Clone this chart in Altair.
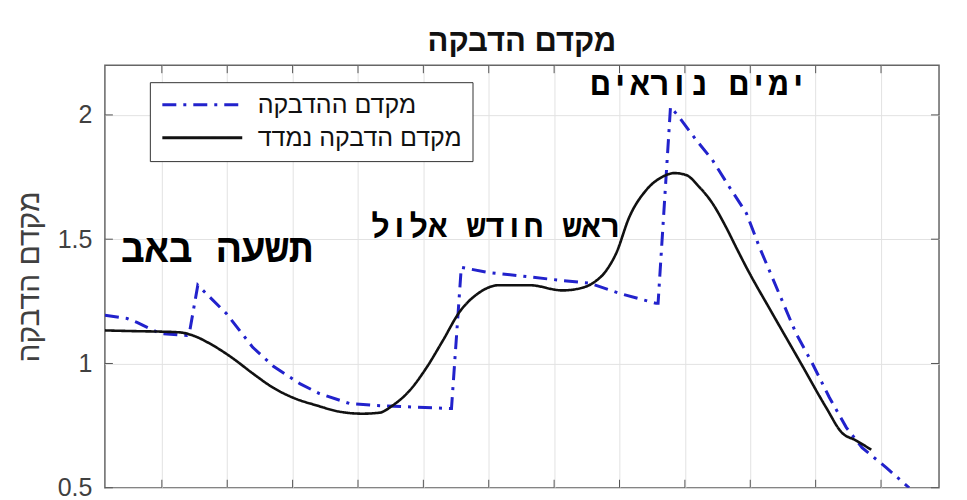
import altair as alt
import pandas as pd

series_names = ["מקדם ההדבקה", "מקדם הדבקה נמדד"]
series_colors = ["#2222cc", "#111111"]

# model (blue dash-dot)
model_x = [-0.87, -0.53, -0.38, -0.03, 0.38, 0.42, 0.55, 0.99, 1.39, 1.70, 2.11, 2.41, 2.87,
           3.28, 4.40, 4.43, 4.58, 4.97, 6.08, 6.54, 7.00, 7.56, 7.59, 7.78, 7.91, 8.17,
           8.42, 8.68, 8.94, 9.14, 9.44, 9.70, 9.95, 10.21, 10.47, 10.71, 11.08, 11.43]
model_y = [1.194, 1.181, 1.165, 1.121, 1.113, 1.121, 1.315, 1.200, 1.065, 0.990, 0.919, 0.879, 0.839,
           0.831, 0.819, 0.819, 1.387, 1.367, 1.335, 1.323, 1.282, 1.242, 1.242, 2.032, 1.992, 1.900,
           1.819, 1.710, 1.605, 1.468, 1.282, 1.121, 1.000, 0.863, 0.742, 0.661, 0.581, 0.500]

# measured (black solid)
measured_x = [-0.87, -0.40, 0.0, 0.28, 0.47, 0.78, 1.09, 1.39, 1.70, 2.00, 2.37, 2.72, 3.07, 3.33,
              3.53, 3.79, 4.05, 4.30, 4.55, 4.86, 5.16, 5.62, 6.13, 6.39, 6.59, 6.80, 6.95,
              7.15, 7.41, 7.65, 7.84, 8.02, 8.22, 8.42, 8.63, 8.79, 8.94, 9.34, 9.75, 10.16,
              10.40, 10.62, 10.85]
measured_y = [1.133, 1.130, 1.128, 1.125, 1.113, 1.073, 1.020, 0.960, 0.903, 0.863, 0.831, 0.806, 0.798, 0.802,
              0.831, 0.891, 0.984, 1.093, 1.206, 1.286, 1.315, 1.315, 1.294, 1.302, 1.323, 1.375, 1.444,
              1.589, 1.698, 1.750, 1.766, 1.758, 1.710, 1.645, 1.548, 1.464, 1.387, 1.200, 1.012, 0.823,
              0.722, 0.690, 0.653]

x_ticks = list(range(12))
y_ticks = [0.5, 1, 1.5, 2]

annot_text = ["ימים נוראים", "ראש חודש אלול", "תשעה באב"]
annot_x = [8.22, 5.10, 0.84]
annot_y = [2.121, 1.550, 1.456]
annot_size = [33, 32, 40]

title_text = "מקדם הדבקה"
y_title = "מקדם הדבקה"

rows = []
for i, (x, y) in enumerate(zip(model_x, model_y)):
    rows.append({"x": x, "y": y, "series": series_names[0], "i": i})
for i, (x, y) in enumerate(zip(measured_x, measured_y)):
    rows.append({"x": x, "y": y, "series": series_names[1], "i": i})
df = pd.DataFrame(rows)
model_df = df[df.series == series_names[0]]
meas_df = df[df.series == series_names[1]]

xscale = alt.Scale(domain=[-0.871, 11.887], nice=False, zero=False)
yscale = alt.Scale(domain=[0.5, 2.2], nice=False, zero=False)

xenc = alt.X("x:Q", scale=xscale,
             axis=alt.Axis(values=x_ticks, labels=False, ticks=False, domain=False, grid=True,
                           gridColor="#e2e2e2", gridWidth=1, title=None))
yenc = alt.Y("y:Q", scale=yscale,
             axis=alt.Axis(values=y_ticks, format="~g", ticks=False, tickSize=0, domain=False, grid=True,
                           gridColor="#e2e2e2", gridWidth=1, labelFontSize=25, labelColor="#404040",
                           labelFont="Liberation Sans", labelPadding=13, title=y_title,
                           titleFontSize=30, titleFontWeight="normal", titleColor="#404040",
                           titleFont="Liberation Sans", titleX=-75, titleY=211.5, titleAngle=270,
                           titleAlign="center", titleBaseline="middle"))
cenc = alt.Color("series:N", scale=alt.Scale(domain=series_names, range=series_colors),
                 legend=alt.Legend(title=None))
denc = alt.StrokeDash("series:N", scale=alt.Scale(domain=series_names, range=[[14, 7, 3, 7], [1, 0]]),
                      legend=alt.Legend(title=None))

model_line = alt.Chart(model_df).mark_line(clip=True, strokeWidth=3).encode(
    x=xenc, y=yenc, color=cenc, strokeDash=denc, order="i:Q")
meas_line = alt.Chart(meas_df).mark_line(clip=True, strokeWidth=2.6, interpolate="monotone").encode(
    x=xenc, y=yenc, color=cenc, strokeDash=denc, order="i:Q")

tx = pd.DataFrame({"x": x_ticks})
ty = pd.DataFrame({"y": y_ticks})
tick_col = "#555555"
top_ticks = alt.Chart(tx).mark_rule(color=tick_col, strokeWidth=1).encode(x="x:Q", y=alt.value(0), y2=alt.value(8))
bot_ticks = alt.Chart(tx).mark_rule(color=tick_col, strokeWidth=1).encode(x="x:Q", y=alt.value(423), y2=alt.value(415))
left_ticks = alt.Chart(ty).mark_rule(color=tick_col, strokeWidth=1).encode(y="y:Q", x=alt.value(0), x2=alt.value(8))
right_ticks = alt.Chart(ty).mark_rule(color=tick_col, strokeWidth=1).encode(y="y:Q", x=alt.value(835), x2=alt.value(827))

adf = pd.DataFrame({"t": annot_text, "x": annot_x, "y": annot_y, "s": annot_size})
annots = alt.Chart(adf).mark_text(font="Liberation Mono", fontWeight="bold", color="#000000",
                                  align="center", baseline="middle").encode(
    x="x:Q", y="y:Q", text="t:N", size=alt.Size("s:Q", scale=None, legend=None))

chart = alt.layer(model_line, meas_line, top_ticks, bot_ticks, left_ticks, right_ticks, annots).properties(
    width=835, height=423,
    autosize=alt.AutoSizeParams(type="none"),
    padding={"left": 97, "top": 57, "right": 20, "bottom": 20},
    title=alt.TitleParams(title_text, fontSize=31, fontWeight="bold", font="Liberation Sans",
                          anchor="middle", offset=7, color="#111111"),
).configure_view(stroke="#666666", strokeWidth=1.5).configure_legend(
    orient="none", legendX=45, legendY=17, fillColor="white", strokeColor="#333333",
    padding=10, labelFontSize=25, labelFont="Liberation Sans", labelColor="#111111", labelLimit=400,
    symbolType="M-7,0H1", symbolSize=400, symbolStrokeWidth=3, symbolOffset=60, rowPadding=7,
    labelOffset=13, cornerRadius=0,
)

chart.save("out.html", embed_options={"renderer": "svg", "actions": False})
